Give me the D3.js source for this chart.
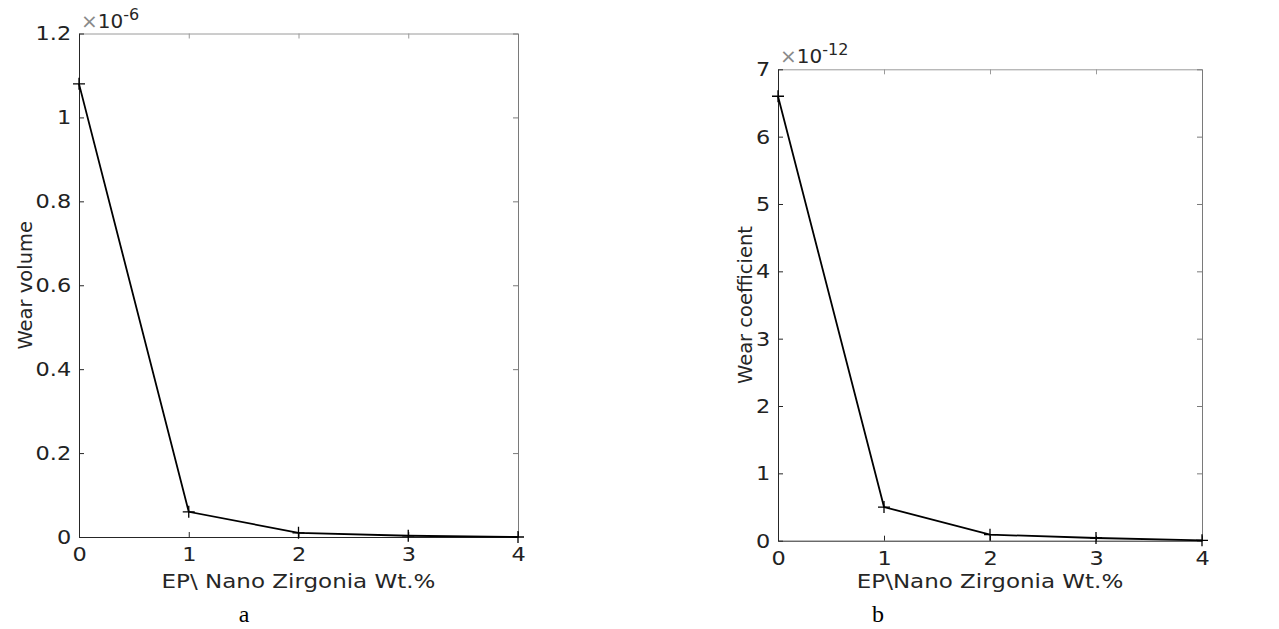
<!DOCTYPE html>
<html>
<head>
<meta charset="utf-8">
<script src="https://cdn.jsdelivr.net/npm/d3@7"></script>
<style>
  body { margin: 0; background: #fff; }
  svg { display: block; }
  .tick text { font-family: 'DejaVu Sans', sans-serif; font-size: 20px; fill: #222; }
  .lbl { font-family: 'DejaVu Sans', sans-serif; fill: #262626; }
  .cap { font-family: 'Liberation Serif', serif; font-size: 24px; fill: #000; }
</style>
</head>
<body>
<div id="chart"></div>
<script>
// wt.% of nano zirgonia
const xValues = [0, 1, 2, 3, 4];
// wear volume, in units of 1e-6
const wearVolume = [1.08, 0.06, 0.01, 0.003, 0.0];
// wear coefficient, in units of 1e-12
const wearCoefficient = [6.6, 0.5, 0.09, 0.04, 0.005];

const xTicks = [0, 1, 2, 3, 4];
const yTicksA = [0, 0.2, 0.4, 0.6, 0.8, 1, 1.2];
const yTicksB = [0, 1, 2, 3, 4, 5, 6, 7];

const width = 1279;
const height = 629;

const svg = d3.select('#chart')
  .append('svg')
  .attr('width', width)
  .attr('height', height);

function drawPanel(opts) {
  const { left, right, top, bottom, values, yMax, yTicks, exponent, yLabel, xLabel, caption, yLabelX, capY } = opts;
  const x = d3.scaleLinear().domain([0, 4]).range([left, right]);
  const y = d3.scaleLinear().domain([0, yMax]).range([bottom, top]);
  const g = svg.append('g');

  const stretch = 'scale(1.12,1)';

  // top and right box edges with inward ticks
  g.append('g')
    .attr('transform', `translate(0,${top})`)
    .call(d3.axisTop(x).tickValues(xTicks).tickSize(-5).tickSizeOuter(0).tickFormat(''))
    .call(a => a.selectAll('path,line').attr('stroke', '#9a9a9a'));
  g.append('g')
    .attr('transform', `translate(${right},0)`)
    .call(d3.axisRight(y).tickValues(yTicks).tickSize(-5).tickSizeOuter(0).tickFormat(''))
    .call(a => a.selectAll('path,line').attr('stroke', '#7a7a7a'));

  g.append('g')
    .attr('transform', `translate(0,${bottom})`)
    .call(d3.axisBottom(x).tickValues(xTicks).tickSize(-5).tickSizeOuter(0).tickPadding(10).tickFormat(d3.format('d')))
    .call(a => a.selectAll('path,line').attr('stroke', '#262626'))
    .call(a => a.selectAll('text').attr('transform', stretch));
  g.append('g')
    .attr('transform', `translate(${left},0)`)
    .call(d3.axisLeft(y).tickValues(yTicks).tickSize(-5).tickSizeOuter(0).tickPadding(7).tickFormat(d => String(+d.toFixed(1))))
    .call(a => a.selectAll('path,line').attr('stroke', '#262626'))
    .call(a => a.selectAll('text').attr('transform', stretch));
  g.selectAll('.domain').attr('stroke-width', 1);

  // exponent label
  const ex = g.append('text')
    .attr('class', 'lbl')
    .attr('x', left + 2)
    .attr('y', top - 6)
    .style('font-size', '20px');
  ex.append('tspan').attr('fill', '#8a8a8a').text('×');
  ex.append('tspan').text('10');
  ex.append('tspan').attr('dy', -8).style('font-size', '16px').text(exponent);

  const line = d3.line()
    .x((d, i) => x(xValues[i]))
    .y(d => y(d));
  g.append('path')
    .datum(values)
    .attr('d', line)
    .attr('fill', 'none')
    .attr('stroke', '#000')
    .attr('stroke-width', 1.8);

  g.selectAll('.mark')
    .data(values)
    .enter()
    .append('path')
    .attr('class', 'mark')
    .attr('d', (d, i) => {
      const cx = x(xValues[i]);
      const cy = y(d);
      return `M${cx - 6},${cy}H${cx + 6}M${cx},${cy - 6}V${cy + 6}`;
    })
    .attr('stroke', '#000')
    .attr('stroke-width', 1.3);

  g.append('text')
    .attr('class', 'lbl')
    .attr('transform', `translate(${yLabelX},${(top + bottom) / 2}) rotate(-90)`)
    .attr('text-anchor', 'middle')
    .style('font-size', '19.5px')
    .text(yLabel);

  g.append('text')
    .attr('class', 'lbl')
    .attr('transform', `translate(${(left + right) / 2},588) scale(1.15,1)`)
    .attr('text-anchor', 'middle')
    .style('font-size', '20px')
    .text(xLabel);

  g.append('text')
    .attr('class', 'cap')
    .attr('x', opts.capX)
    .attr('y', capY)
    .attr('text-anchor', 'middle')
    .text(caption);
}

drawPanel({
  left: 79, right: 518, top: 33.5, bottom: 537,
  values: wearVolume, yMax: 1.2, yTicks: yTicksA, exponent: '-6',
  yLabel: 'Wear volume', xLabel: 'EP\\ Nano Zirgonia Wt.%',
  caption: 'a', yLabelX: 32, capX: 244, capY: 622
});

drawPanel({
  left: 778, right: 1202, top: 69.3, bottom: 540.7,
  values: wearCoefficient, yMax: 7, yTicks: yTicksB, exponent: '-12',
  yLabel: 'Wear coefficient', xLabel: 'EP\\Nano Zirgonia Wt.%',
  caption: 'b', yLabelX: 752, capX: 878, capY: 622
});
</script>
</body>
</html>
